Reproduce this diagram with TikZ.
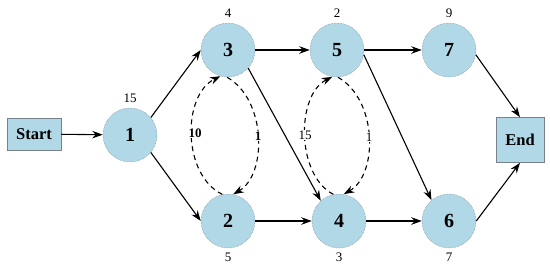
\documentclass[tikz,border=0pt]{standalone}
\usepackage{fontspec}
\setmainfont{Liberation Serif}
\usetikzlibrary{arrows.meta}
\definecolor{nodefill}{RGB}{176,216,230}
\definecolor{nodeline}{RGB}{120,130,140}
\tikzset{
  circ/.style={circle,fill=nodefill,draw=nodeline,densely dotted,line width=0.5pt,minimum size=54pt,inner sep=0pt,font=\fontsize{20}{22}\selectfont\bfseries},
  boxnode/.style={rectangle,fill=nodefill,draw=nodeline,line width=0.6pt,inner sep=0pt,font=\fontsize{16.5}{18}\selectfont\bfseries},
  wlabel/.style={font=\fontsize{13}{15}\selectfont,inner sep=1pt},
  arclabel/.style={font=\fontsize{13}{15}\selectfont,fill=white,inner sep=1pt},
  arr/.style={-{Stealth[length=10.5pt,width=7.5pt]},line width=1.1pt},
  darr/.style={-{Stealth[length=10.5pt,width=7.5pt]},line width=1.1pt,dash pattern=on 5pt off 4pt}
}
\begin{document}
\begin{tikzpicture}[x=1pt,y=-1pt]
\useasboundingbox (0,0) rectangle (550,269);
% nodes
\node[boxnode,minimum width=54pt,minimum height=32pt] (start) at (34,134) {Start};
\node[boxnode,minimum width=48pt,minimum height=45pt] (end) at (520,140) {End};
\node[circ] (n1) at (130,135) {1};
\node[circ] (n3) at (228,50) {3};
\node[circ] (n5) at (337,50) {5};
\node[circ] (n7) at (449,50) {7};
\node[circ] (n2) at (228,221) {2};
\node[circ] (n4) at (339,221) {4};
\node[circ] (n6) at (449,221) {6};
% weights
\node[wlabel] (w1) at (130,98) {15};
\node[wlabel] (w3) at (228,13) {4};
\node[wlabel] (w5) at (337,13) {2};
\node[wlabel] (w7) at (449,13) {9};
\node[wlabel] (w2) at (228,257) {5};
\node[wlabel] (w4) at (339,257) {3};
\node[wlabel] (w6) at (449,257) {7};
% solid edges
\draw[arr] (start) -- (n1);
\draw[arr] (n1.40) -- (n3.west);
\draw[arr] (n1.-40) -- (n2.west);
\draw[arr] (n3) -- (n5);
\draw[arr] (n2) -- (n4);
\draw[arr] (n5) -- (n7);
\draw[arr] (n4) -- (n6);
\draw[arr] (n3.-42) -- (n4.132);
\draw[arr] (n5.-10) -- (n6.130);
\draw[arr] (n7.-10) -- (end.north);
\draw[arr] (n6.east) -- (end.south);
% dashed arcs
\draw[darr] (n2.102) .. controls (182,175) and (182,95) .. (n3.-106);
\draw[darr] (n3.-92) .. controls (267,100) and (267,175) .. (n2.79);
\draw[darr] (n4.102) .. controls (296,175) and (296,95) .. (n5.-100);
\draw[darr] (n5.-88) .. controls (378,100) and (378,175) .. (n4.80);
% arc labels
\node[arclabel,font=\fontsize{13}{15}\selectfont\bfseries] (a10) at (195,133) {10};
\node[arclabel,font=\fontsize{13}{15}\selectfont\bfseries] (a1a) at (258,136) {1};
\node[arclabel] (a15) at (305,135) {15};
\node[arclabel] (a1b) at (369,137) {1};
\end{tikzpicture}
\end{document}
